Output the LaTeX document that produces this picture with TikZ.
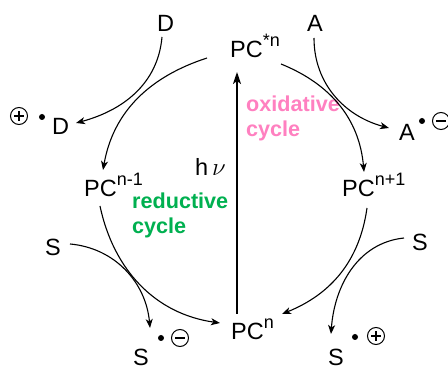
\documentclass[tikz,border=0pt]{standalone}
\usepackage{fontspec}
\setmainfont{Liberation Sans}
\usetikzlibrary{arrows.meta}
\definecolor{oxpink}{RGB}{255,128,192}
\definecolor{redgreen}{RGB}{0,176,80}
\newcommand{\supx}[1]{\raisebox{11pt}{\fontsize{18}{18}\selectfont #1}}
\begin{document}
\begin{tikzpicture}[x=1pt,y=-1pt,
  lbl/.style={inner sep=0pt, anchor=base west, font=\fontsize{23.5}{28}\selectfont},
  cyc/.style={inner sep=0pt, anchor=base west, align=left, font=\fontsize{21.6}{25}\selectfont\bfseries},
  rxn/.style={line width=1.1pt, -{Stealth[length=9pt,width=7pt,inset=2.5pt]}},
  excite/.style={line width=1.8pt, -{Stealth[length=12pt,width=8pt,inset=3pt]}},
  chargedot/.style={circle, fill=black, inner sep=0pt, minimum size=6pt},
  chgcirc/.style={circle, draw, line width=1pt, inner sep=0pt, minimum size=17pt},
  pluscirc/.style={chgcirc, path picture={\draw[line width=1.5pt]
     ([xshift=-5pt]path picture bounding box.center) -- ([xshift=5pt]path picture bounding box.center)
     ([yshift=-5pt]path picture bounding box.center) -- ([yshift=5pt]path picture bounding box.center);}},
  minuscirc/.style={chgcirc, path picture={\draw[line width=1.5pt]
     ([xshift=-5pt]path picture bounding box.center) -- ([xshift=5pt]path picture bounding box.center);}}
]
\useasboundingbox (0,0) rectangle (448,371);

% main species
\node[lbl] (pcs) at (230,58) {PC\supx{*n}};
\node[lbl] (pcm) at (84,197) {PC\supx{n-1}};
\node[lbl] (pcp) at (342,197) {PC\supx{n+1}};
\node[lbl] (pcn) at (231,340) {PC\supx{n}};

% substrates
\node[lbl] (dtop) at (157,32) {D};
\node[lbl] (atop) at (307,32) {A};
\node[lbl] (dox) at (52,135) {D};
\node[lbl] (ared) at (399,141) {A};
\node[lbl] (sl) at (45,256) {S};
\node[lbl] (sr) at (412,251) {S};
\node[lbl] (sbl) at (133,366) {S};
\node[lbl] (sbr) at (328,366) {S};

% charges and radicals
\node[pluscirc] (dplus) at (19,116) {};
\node[chargedot] (ddot) at (42,117) {};
\node[chargedot] (adot) at (422,121) {};
\node[minuscirc] (aminus) at (441,121) {};
\node[chargedot] (sldot) at (161,338) {};
\node[minuscirc] (slminus) at (180,338) {};
\node[chargedot] (srdot) at (355,337) {};
\node[pluscirc] (srplus) at (376,336) {};

% labels
\node[lbl] (hnu) at (195,176) {h\,$\nu$};
\node[cyc, text=oxpink] (oxc) at (246,137) {oxidative\\cycle};
\node[cyc, text=redgreen] (redc) at (132,234) {reductive\\cycle};

% excitation
\draw[excite] ([shift={(6,-26)}]pcn.base west) -- ([shift={(7,14)}]pcs.base west);

% reductive quenching
\draw[rxn] ([shift={(-23,0)}]pcs.base west) to[out=198,in=80] ([shift={(19,-27)}]pcm.base west);
\draw[rxn] ([shift={(5,5)}]dtop.base west) to[out=-95,in=15] ([shift={(24,-12)}]dox.base west);
\draw[rxn] ([shift={(16,9)}]pcm.base west) to[out=-78,in=172] ([shift={(-11,-17)}]pcn.base west);
\draw[rxn] ([shift={(25,-12)}]sl.base west) to[out=-5,in=95] ([shift={(17,-38)}]sbl.base west);

% oxidative quenching
\draw[rxn] ([shift={(51,6)}]pcs.base west) to[out=-22,in=95] ([shift={(22,-25)}]pcp.base west);
\draw[rxn] ([shift={(7,6)}]atop.base west) to[out=-90,in=165] ([shift={(-10,-13)}]ared.base west);
\draw[rxn] ([shift={(25,11)}]pcp.base west) to[out=-98,in=22] ([shift={(51,-26)}]pcn.base west);
\draw[rxn] ([shift={(-8,-13)}]sr.base west) to[out=186,in=86] ([shift={(3,-32)}]sbr.base west);
\end{tikzpicture}
\end{document}
